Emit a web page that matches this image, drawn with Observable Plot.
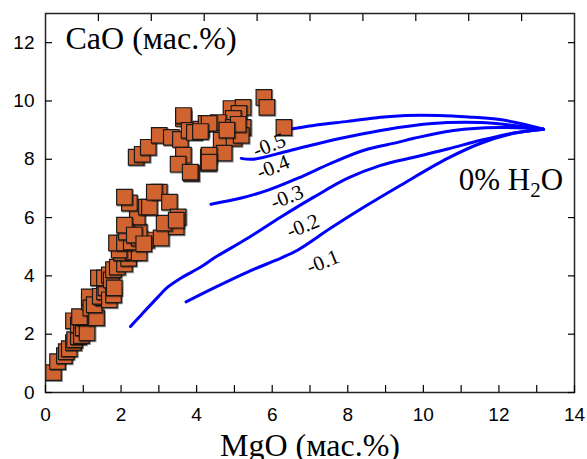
<!DOCTYPE html>
<html>
<head>
<meta charset="utf-8">
<script src="https://cdn.jsdelivr.net/npm/d3@7"></script>
<script src="https://cdn.jsdelivr.net/npm/@observablehq/plot@0.6"></script>
<style>
  html, body { margin: 0; padding: 0; background: #fff; }
  #chart { width: 587px; height: 459px; }
  .serif { font-family: "Liberation Serif", "DejaVu Serif", serif !important; }
</style>
</head>
<body>
<div id="chart"></div>
<script>
// ---- data ----
const sampleMgO = [
  0.21,0.32,0.50,0.55,0.63,0.74,0.77,0.87,0.74,0.87,0.95,0.95,1.00,1.10,1.03,0.90,1.16,1.16,1.20,1.35,1.29,1.53,1.45,1.56,1.60,1.69,1.80,1.40,1.56,1.69,1.74,1.82,1.80,1.90,2.09,2.20,2.01,2.32,
  1.95,1.88,2.48,2.09,2.27,2.48,2.67,2.48,3.06,3.46,3.14,2.43,2.14,2.09,2.22,2.09,2.67,2.75,3.01,2.88,3.28,3.51,3.46,2.35,2.60,
  3.86,2.40,2.56,2.72,3.01,3.33,3.57,3.65,3.65,3.80,4.12,3.65,3.51,3.83,4.31,4.31,4.25,5.78,5.86,4.91,5.23,5.12,4.97,4.57,5.23,4.97,4.33,3.94,4.65,4.99,5.18,4.73,4.33,4.33,6.31,4.10,5.10,4.80
];
const sampleCaO = [
  0.68,1.06,1.26,1.40,1.50,1.71,1.81,1.91,2.46,2.32,2.15,1.95,2.22,2.05,2.56,2.60,3.11,3.28,2.90,2.56,3.01,3.25,3.30,3.45,3.60,3.18,3.35,3.93,3.93,4.03,3.86,3.59,4.21,4.30,4.41,4.60,4.79,4.82,
  4.89,5.13,4.79,5.13,5.16,5.30,5.23,5.50,5.30,5.68,5.81,6.02,5.50,5.74,6.50,6.70,6.36,6.36,6.87,6.87,6.53,6.02,5.91,5.40,5.10,
  7.52,8.07,8.17,8.41,8.82,8.75,8.68,9.40,9.50,8.99,9.03,8.14,7.83,7.56,8.07,7.86,9.23,10.12,9.78,9.74,9.78,9.57,9.40,9.26,9.09,9.09,9.23,8.92,8.65,8.72,8.82,8.21,8.14,7.90,9.09,8.95,9.20,9.00
];

// model curves (labelled by value), all converging at the 0% H2O point
const curveLabels = ["-0.5", "-0.4", "-0.3", "-0.2", "-0.1"];
const curveMgO = [
  [6.29, 7.10, 8.00, 8.87, 9.54, 10.40, 11.20, 11.97, 12.60, 13.18],
  [5.18, 5.49, 6.50, 7.82, 8.87, 9.75, 10.64, 11.52, 12.39, 13.18],
  [4.38, 5.18, 5.89, 6.68, 7.55, 8.43, 9.32, 9.75, 10.80, 11.97, 13.18],
  [2.25, 2.54, 2.98, 3.24, 3.59, 4.12, 4.46, 5.36, 6.23, 7.10, 8.00, 8.87, 9.75, 10.64, 11.52, 12.39, 13.18],
  [3.72, 4.46, 5.36, 6.23, 6.68, 7.55, 8.43, 9.40, 10.64, 11.52, 12.39, 13.18]
];
const curveCaO = [
  [8.99, 9.16, 9.30, 9.44, 9.50, 9.50, 9.45, 9.37, 9.22, 9.03],
  [8.03, 8.00, 8.31, 8.72, 8.99, 9.16, 9.26, 9.26, 9.16, 9.03],
  [6.46, 6.67, 6.94, 7.35, 7.86, 8.31, 8.58, 8.72, 8.99, 9.09, 9.03],
  [2.26, 2.67, 3.28, 3.62, 3.93, 4.31, 4.61, 5.30, 6.02, 6.70, 7.35, 7.79, 8.07, 8.35, 8.65, 8.90, 9.03],
  [3.11, 3.59, 4.14, 4.61, 4.89, 5.64, 6.36, 7.11, 8.03, 8.55, 8.89, 9.03]
];
const labelMgO = [5.92, 6.02, 6.39, 6.81, 7.34];
const labelCaO = [8.48, 7.73, 6.70, 5.71, 4.48];

const xTicks = d3.range(0, 15, 1);
const xTickLabels = d3.range(0, 15, 2);
const xTopTicks = d3.range(1, 10).map(i => i * 1.4);
const yTicks = d3.range(0, 13, 2);

const xTitle = "MgO (мас.%)";
const yTitle = "CaO (мас.%)";
const h2oX = [10.95];
const h2oY = [6.94];

// ---- build tables ----
const samples = sampleMgO.map((x, i) => ({x, y: sampleCaO[i]}));
const curves = curveLabels.flatMap((lab, k) =>
  curveMgO[k].map((x, i) => ({x, y: curveCaO[k][i], lab})));
const curveText = curveLabels.map((lab, k) => ({x: labelMgO[k], y: labelCaO[k], lab}));

const sans = "Liberation Sans, Arial, sans-serif";
const serif = "Liberation Serif, serif";

const chart = Plot.plot({
  width: 587,
  height: 459,
  marginLeft: 45,
  marginRight: 13,
  marginTop: 13,
  marginBottom: 67,
  style: {fontFamily: sans, fontSize: "19px", color: "#000", background: "#fff"},
  x: {domain: [0, 14]},
  y: {domain: [0, 13]},
  marks: [
    Plot.line(curves, {x: "x", y: "y", z: "lab", stroke: "#0000ff", strokeWidth: 3, curve: "catmull-rom"}),
    Plot.dot(samples, {x: "x", y: "y", symbol: "square", r: 8.8, fill: "#d0632f", stroke: "#1a1a1a", strokeWidth: 1.2}),
    Plot.text(curveText, {x: "x", y: "y", text: "lab", rotate: -22, fontFamily: serif, fontSize: 21, fill: "#000", className: "serif"}),
    Plot.frame({stroke: "#222", strokeWidth: 1.5}),
    Plot.axisX(xTicks, {anchor: "bottom", tickSize: -7, tickFormat: () => "", label: null, strokeWidth: 1.2}),
    Plot.axisX(xTopTicks, {anchor: "top", tickSize: -7, tickFormat: () => "", label: null, strokeWidth: 1.2}),
    Plot.axisX(xTickLabels, {anchor: "bottom", tickSize: 0, tickPadding: 15, label: null, fontSize: 19}),
    Plot.axisY(yTicks, {anchor: "left", tickSize: -7, tickFormat: () => "", label: null, strokeWidth: 1.2}),
    Plot.axisY(yTicks, {anchor: "right", tickSize: -7, tickFormat: () => "", label: null, strokeWidth: 1.2}),
    Plot.axisY(yTicks, {anchor: "left", tickSize: 0, tickPadding: 11, label: null, fontSize: 19}),
    Plot.text([yTitle], {frameAnchor: "top-left", dx: 20, dy: 13, fontFamily: serif, fontSize: 32, textAnchor: "start", lineAnchor: "top", fill: "#000", className: "serif"}),
    Plot.text([xTitle], {frameAnchor: "bottom", dy: 41, fontFamily: serif, fontSize: 32, lineAnchor: "top", fill: "#000", className: "serif"})
  ]
});

document.getElementById("chart").append(chart);

// drop shadow on each square, and the H2O text with subscript
const xs = chart.scale("x"), ys = chart.scale("y");
chart.querySelectorAll('g[aria-label="dot"] path').forEach(p => {
  p.style.filter = "drop-shadow(1.5px 1.5px 0.6px rgba(0,0,0,0.45))";
});
const ns = "http://www.w3.org/2000/svg";
const t = document.createElementNS(ns, "text");
t.setAttribute("x", xs.apply(h2oX[0]));
t.setAttribute("y", ys.apply(h2oY[0]));
t.setAttribute("text-anchor", "start");
t.setAttribute("class", "serif");
t.setAttribute("font-size", "31");
t.setAttribute("fill", "#000");
t.append("0% H");
const sub = document.createElementNS(ns, "tspan");
sub.setAttribute("font-size", "21");
sub.setAttribute("dy", "7");
sub.textContent = "2";
const o = document.createElementNS(ns, "tspan");
o.setAttribute("dy", "-7");
o.textContent = "O";
t.append(sub, o);
chart.append(t);
</script>
</body>
</html>
